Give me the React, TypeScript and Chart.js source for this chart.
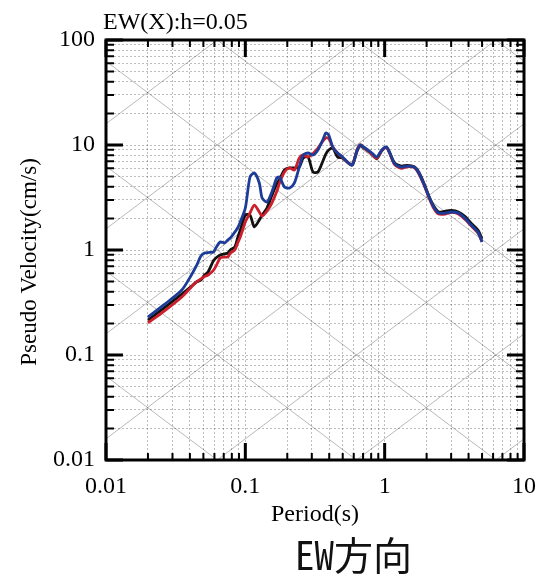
import React, { useEffect, useRef } from 'react';
import { Chart, registerables } from 'chart.js';

Chart.register(...registerables);

// Period (s)
const periods = [
  0.02, 0.026, 0.035, 0.041, 0.0445, 0.048, 0.051, 0.054, 0.059, 0.0615,
  0.066, 0.071, 0.075, 0.078, 0.084, 0.088, 0.092, 0.1, 0.108, 0.116,
  0.126, 0.132, 0.143, 0.155, 0.168, 0.176, 0.191, 0.208, 0.225, 0.244,
  0.26, 0.282, 0.306, 0.332, 0.36, 0.378, 0.397, 0.424, 0.459, 0.498,
  0.549, 0.586, 0.635, 0.667, 0.723, 0.81, 0.878, 0.953, 1.03, 1.08,
  1.18, 1.32, 1.45, 1.63, 1.76, 1.91, 2.08, 2.25, 2.44, 2.73,
  3.01, 3.38, 3.78, 4.17, 4.67, 5.0,
];

// Pseudo velocity (cm/s)
const velBlue = [
  0.23, 0.3, 0.416, 0.578, 0.705, 0.877, 0.936, 0.946, 0.957, 1.05,
  1.19, 1.17, 1.25, 1.3, 1.48, 1.62, 1.85, 2.51, 4.96, 5.41,
  4.35, 3.13, 2.86, 3.56, 4.85, 4.96, 3.98, 3.89, 4.35, 6.17,
  8.03, 8.39, 8.03, 8.96, 11.2, 13.0, 12.45, 9.57, 8.39, 7.69,
  6.74, 6.45, 8.96, 10.0, 9.36, 8.39, 7.69, 8.96, 9.57, 8.58,
  6.6, 6.17, 6.3, 6.17, 5.41, 4.25, 3.2, 2.57, 2.25, 2.25,
  2.3, 2.25, 2.0, 1.73, 1.48, 1.19,
];

const velRed = [
  0.202, 0.26, 0.357, 0.445, 0.496, 0.53, 0.56, 0.578, 0.64, 0.7,
  0.839, 0.857, 0.86, 0.936, 1.0, 1.16, 1.33, 1.85, 2.25, 2.68,
  2.3, 2.1, 2.35, 2.8, 3.6, 4.35, 5.53, 6.04, 5.78, 7.52,
  8.03, 7.69, 8.3, 9.36, 10.9, 11.7, 11.5, 9.57, 8.39, 7.6,
  6.74, 6.5, 9.1, 10.1, 9.3, 8.2, 7.5, 8.9, 9.5, 8.5,
  6.5, 6.0, 6.2, 6.1, 5.3, 4.2, 3.15, 2.5, 2.2, 2.2,
  2.28, 2.2, 1.95, 1.7, 1.45, 1.2,
];

const velBlack = [
  0.215, 0.28, 0.38, 0.45, 0.496, 0.518, 0.578, 0.617, 0.79, 0.839,
  0.896, 0.92, 0.936, 1.0, 1.07, 1.3, 1.55, 2.15, 2.15, 1.66,
  1.93, 2.15, 2.51, 3.3, 4.25, 4.7, 5.78, 6.04, 6.04, 6.17,
  7.52, 7.69, 5.53, 5.53, 7.0, 8.2, 8.96, 9.36, 7.69, 7.52,
  6.74, 6.45, 8.8, 9.8, 9.2, 8.2, 7.4, 8.8, 9.5, 8.6,
  6.7, 6.3, 6.4, 6.2, 5.5, 4.35, 3.25, 2.62, 2.3, 2.35,
  2.38, 2.3, 2.08, 1.8, 1.55, 1.28,
];

// axis decades and tick labels
const xDecades = [0.01, 0.1, 1, 10];
const yDecades = [0.01, 0.1, 1, 10, 100];
const decadeLabels = ['0.01', '0.1', '1', '10', '100'];
const minorSteps = [1, 2, 3, 4, 5, 6, 7, 8, 9];
// exponents of constant displacement (cm) and acceleration (cm/s^2) lines
const diagExponents = [-6, -5, -4, -3, -2, -1, 0, 1, 2, 3, 4, 5, 6];

const chartTitle = 'EW(X):h=0.05';
const xTitle = 'Period(s)';
const yTitle = 'Pseudo Velocity(cm/s)';
const caption = 'EW方向';

const serif = '"Liberation Serif", "Times New Roman", serif';

function tickValues(decades: number[]): number[] {
  const out: number[] = [];
  for (let i = 0; i < decades.length - 1; i++) {
    for (const m of minorSteps) out.push(+(decades[i] * m).toPrecision(6));
  }
  out.push(decades[decades.length - 1]);
  return out;
}

function decadeLabel(v: number): string {
  const e = Math.log10(v);
  const r = Math.round(e);
  return Math.abs(e - r) < 1e-6 ? decadeLabels[r + 2] ?? '' : '';
}

function isDecade(v: number): boolean {
  const e = Math.log10(v);
  return Math.abs(e - Math.round(e)) < 1e-6;
}

export default function App() {
  const ref = useRef<HTMLCanvasElement>(null);

  useEffect(() => {
    const canvas = ref.current;
    if (!canvas) return;

    const tripartite = {
      id: 'tripartite',
      beforeDatasetsDraw(chart: any) {
        const { ctx, chartArea: a, scales } = chart;
        const x = scales.x;
        const y = scales.y;
        ctx.save();
        ctx.beginPath();
        ctx.rect(a.left, a.top, a.right - a.left, a.bottom - a.top);
        ctx.clip();
        ctx.strokeStyle = 'rgba(0,0,0,0.28)';
        ctx.lineWidth = 1;
        const t0 = x.min;
        const t1 = x.max;
        const seg = (va: number, vb: number) => {
          ctx.beginPath();
          ctx.moveTo(x.getPixelForValue(t0), y.getPixelForValue(va));
          ctx.lineTo(x.getPixelForValue(t1), y.getPixelForValue(vb));
          ctx.stroke();
        };
        for (const e of diagExponents) {
          const D = Math.pow(10, e);
          seg((2 * Math.PI * D) / t0, (2 * Math.PI * D) / t1);
          const A = Math.pow(10, e);
          seg((A * t0) / (2 * Math.PI), (A * t1) / (2 * Math.PI));
        }
        ctx.restore();
      },
    };

    const frame = {
      id: 'frame',
      afterDraw(chart: any) {
        const { ctx, chartArea: a, scales } = chart;
        const x = scales.x;
        const y = scales.y;
        ctx.save();
        ctx.strokeStyle = '#000';
        ctx.lineCap = 'butt';
        for (const t of x.ticks) {
          const px = x.getPixelForValue(t.value);
          const major = isDecade(t.value);
          const len = major ? 17 : 7;
          ctx.lineWidth = major ? 3 : 2;
          ctx.beginPath();
          ctx.moveTo(px, a.top);
          ctx.lineTo(px, a.top + len);
          ctx.moveTo(px, a.bottom);
          ctx.lineTo(px, a.bottom - len);
          ctx.stroke();
        }
        for (const t of y.ticks) {
          const py = y.getPixelForValue(t.value);
          const major = isDecade(t.value);
          const len = major ? 17 : 8;
          ctx.lineWidth = major ? 3 : 2;
          ctx.beginPath();
          ctx.moveTo(a.left, py);
          ctx.lineTo(a.left + len, py);
          ctx.moveTo(a.right, py);
          ctx.lineTo(a.right - len, py);
          ctx.stroke();
        }
        ctx.lineWidth = 3;
        ctx.strokeRect(a.left, a.top, a.right - a.left, a.bottom - a.top);

        ctx.fillStyle = '#000';
        ctx.font = `24px ${serif}`;
        ctx.textAlign = 'left';
        ctx.textBaseline = 'alphabetic';
        ctx.fillText(chartTitle, a.left - 3, a.top - 11);

        // rotated y-axis title
        ctx.save();
        ctx.translate(22, (a.top + a.bottom) / 2 + 12);
        ctx.rotate(-Math.PI / 2);
        ctx.font = `23px ${serif}`;
        ctx.textAlign = 'center';
        ctx.textBaseline = 'middle';
        ctx.fillText(yTitle, 0, 0);
        ctx.restore();

        ctx.restore();
      },
    };

    const mk = (vals: number[]) => periods.map((t, i) => ({ x: t, y: vals[i] }));
    const xTicks = tickValues(xDecades);
    const yTicks = tickValues(yDecades);
    const lineStyle = { borderWidth: 2.8, pointRadius: 0, tension: 0.25, fill: false };

    const chart = new Chart(canvas, {
      type: 'line',
      data: {
        datasets: [
          { label: 'blue', data: mk(velBlue), borderColor: '#1c3c98', ...lineStyle },
          { label: 'red', data: mk(velRed), borderColor: '#cc1f2b', ...lineStyle },
          { label: 'black', data: mk(velBlack), borderColor: '#111111', ...lineStyle },
        ],
      },
      options: {
        animation: false,
        responsive: false,
        devicePixelRatio: 1,
        layout: { padding: { left: 0, right: 16, top: 32, bottom: 0 } },
        plugins: {
          legend: { display: false },
          tooltip: { enabled: false },
          title: { display: false },
        },
        scales: {
          x: {
            type: 'logarithmic',
            min: xDecades[0],
            max: xDecades[xDecades.length - 1],
            afterBuildTicks(s: any) { s.ticks = xTicks.map((v) => ({ value: v })); },
            afterFit(s: any) { s.height = 115; },
            grid: { color: 'rgba(0,0,0,0.26)', lineWidth: 1, drawTicks: false },
            border: { display: false, dash: [2, 2] },
            ticks: {
              autoSkip: false,
              maxRotation: 0,
              minRotation: 0,
              padding: 12,
              color: '#000',
              font: { family: serif, size: 24 },
              callback: (v: any) => decadeLabel(Number(v)),
            },
            title: {
              display: true,
              text: xTitle,
              color: '#000',
              font: { family: serif, size: 24 },
              padding: { top: 0, bottom: 46 },
            },
          },
          y: {
            type: 'logarithmic',
            min: yDecades[0],
            max: yDecades[yDecades.length - 1],
            afterBuildTicks(s: any) { s.ticks = yTicks.map((v) => ({ value: v })); },
            afterFit(s: any) { s.width = 98; },
            grid: { color: 'rgba(0,0,0,0.26)', lineWidth: 1, drawTicks: false },
            border: { display: false, dash: [2, 2] },
            ticks: {
              autoSkip: false,
              padding: 11,
              color: '#000',
              font: { family: serif, size: 24 },
              callback: (v: any) => decadeLabel(Number(v)),
            },
            title: { display: false },
          },
        },
      },
      plugins: [tripartite, frame],
    } as any);

    return () => chart.destroy();
  }, []);

  return (
    <div style={{ position: 'relative', width: 540, height: 567 }}>
      <canvas ref={ref} width={540} height={567} style={{ display: 'block', width: 540, height: 567 }} />
      <div
        style={{
          position: 'absolute',
          left: 287,
          top: 526,
          fontFamily: '"Noto Sans CJK JP", sans-serif',
          fontSize: 39,
          lineHeight: '39px',
          fontFeatureSettings: '"hwid" 1',
          color: '#111',
          whiteSpace: 'nowrap',
        }}
      >
        {caption}
      </div>
    </div>
  );
}
